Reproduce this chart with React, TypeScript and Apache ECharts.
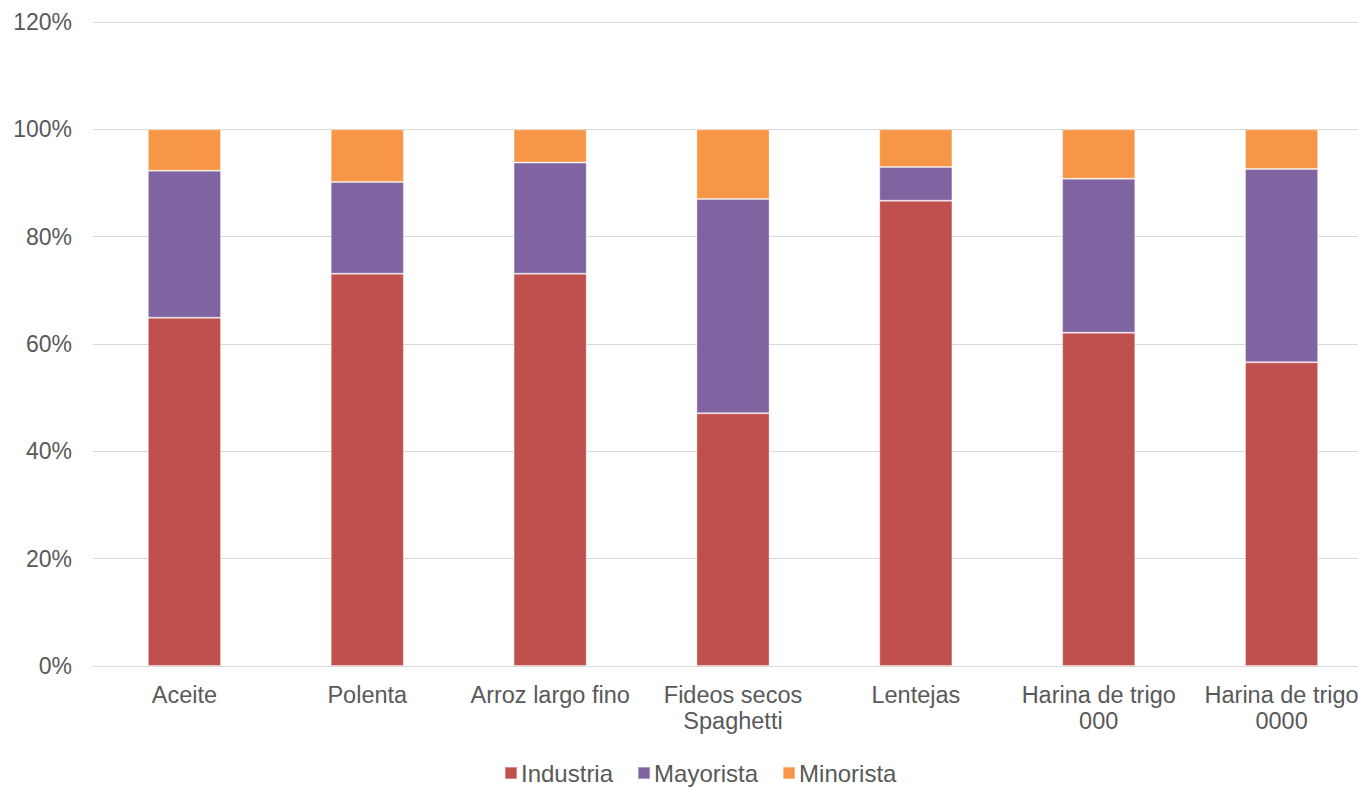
import React, { useEffect, useRef } from "react";
import * as echarts from "echarts";

const categories = [
  "Aceite",
  "Polenta",
  "Arroz largo fino",
  "Fideos secos\nSpaghetti",
  "Lentejas",
  "Harina de trigo\n000",
  "Harina de trigo\n0000",
];
const industria = [64.9, 73.1, 73.1, 47.1, 86.7, 62.1, 56.6];
const mayorista = [27.4, 17.1, 20.7, 39.9, 6.3, 28.7, 36.0];
const minorista = [7.7, 9.8, 6.2, 13.0, 7.0, 9.2, 7.4];
const seriesNames = ["Industria", "Mayorista", "Minorista"];
const colors = ["#C0504D", "#8064A2", "#F79646"];

export default function App() {
  const ref = useRef<HTMLDivElement>(null);
  useEffect(() => {
    if (!ref.current) return;
    const chart = echarts.init(ref.current, null, { renderer: "svg" });
    const dataSets = [industria, mayorista, minorista];
    chart.setOption({
      animation: false,
      textStyle: { fontFamily: "Liberation Sans, Arial, sans-serif" },
      grid: { left: 93, right: 0, top: 22, bottom: 121 },
      legend: {
        top: 755,
        left: 499,
        padding: 5,
        itemWidth: 12,
        itemHeight: 12,
        itemGap: 24,
        icon: "rect",
        textStyle: { color: "#595959", fontSize: 24, lineHeight: 26, padding: [0, 0, 0, -1] },
        data: seriesNames,
      },
      xAxis: {
        type: "category",
        data: categories,
        axisLine: { lineStyle: { color: "#d9d9d9" } },
        axisTick: { show: false },
        axisLabel: {
          color: "#595959",
          fontSize: 23.5,
          lineHeight: 26,
          margin: 16,
          interval: 0,
        },
      },
      yAxis: {
        type: "value",
        min: 0,
        max: 120,
        interval: 20,
        axisLine: { show: false },
        axisTick: { show: false },
        splitLine: { lineStyle: { color: "#d9d9d9", width: 1 } },
        axisLabel: {
          color: "#595959",
          fontSize: 23,
          margin: 21,
          formatter: "{value}%",
        },
      },
      series: dataSets.map((d, i) => ({
        name: seriesNames[i],
        type: "bar",
        stack: "total",
        barWidth: "40%",
        data: d,
        itemStyle: {
          color: colors[i],
          borderColor: "rgba(255,255,255,0.35)",
          borderWidth: 1,
        },
      })),
    });
    return () => chart.dispose();
  }, []);
  return (
    <div
      ref={ref}
      style={{ position: "fixed", left: 0, top: 0, width: 1373, height: 787, background: "#fff" }}
    />
  );
}
